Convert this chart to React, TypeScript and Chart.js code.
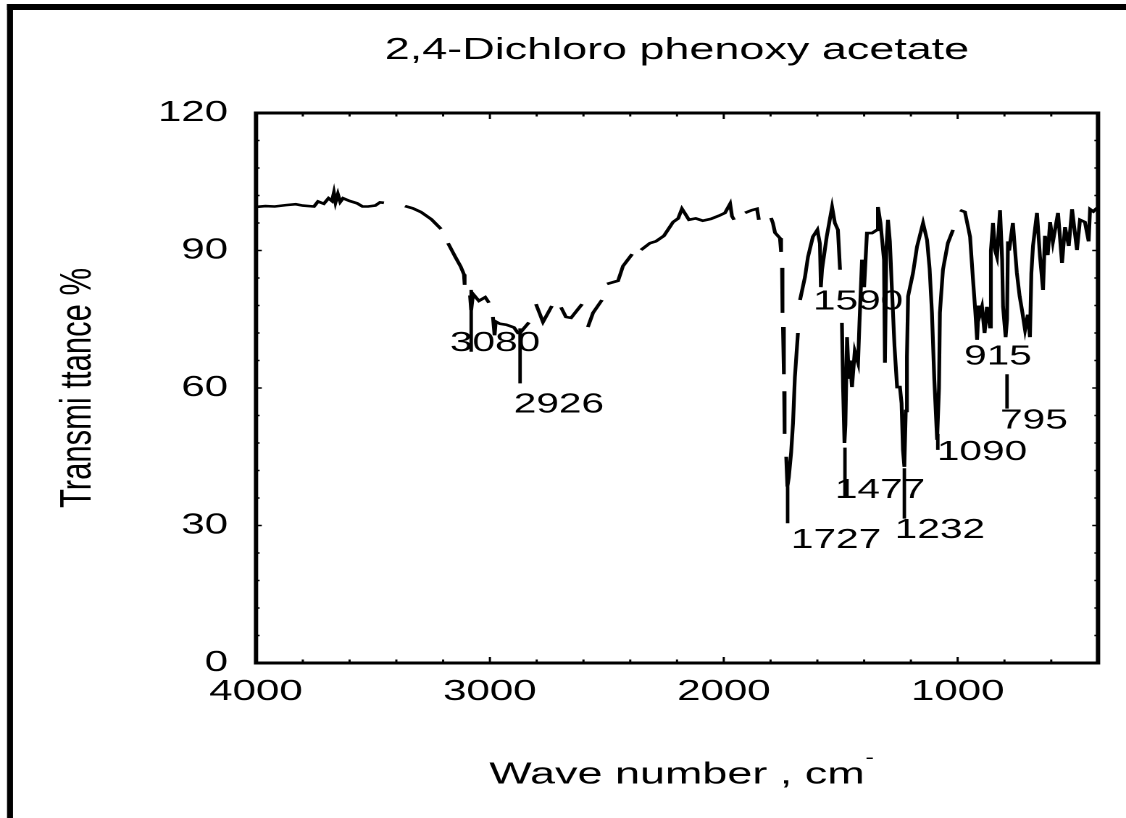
import { useEffect, useRef } from "react";
import { Chart, registerables } from "chart.js";

Chart.register(...registerables);

const CANVAS_W = 777;
const CANVAS_H = 818;
const STRETCH = 1126 / CANVAS_W;
const FONT = '"Liberation Sans", Arial, Helvetica, sans-serif';

// IR spectrum: wavenumber (cm-1) and transmittance (%); null marks a break in the trace
const wavenumbers = [
  4000, 3960, 3920, 3872, 3830, 3800, 3752, 3735, 3710, 3690, 3675, 3667, 3660, 3650, 3640, 3628, 3600, 3568, 3545, 3521, 3490, 3470, 3453,
  3420, 3363, 3330, 3295, 3250, 3209, 3195, 3179, 3150, 3125, 3111, 3108, 3095, 3085, 3080, 3072, 3047, 3020, 3004, 2995,
  2987, 2980, 2975, 2957, 2930, 2897, 2880, 2871, 2855, 2833, 2820, 2803, 2773, 2735, 2715, 2696, 2675, 2653, 2606, 2595,
  2581, 2559, 2521, 2510, 2499, 2452, 2431, 2392, 2370, 2354, 2316, 2290, 2256, 2217, 2195, 2179, 2165, 2149, 2120, 2090,
  2055, 2020, 1995, 1973, 1965, 1956, 1935, 1909, 1880, 1858, 1850, 1825, 1798, 1790, 1781, 1760, 1755, 1753, 1751, 1749,
  1748, 1747, 1743, 1742.5, 1742, 1740, 1739, 1733, 1728, 1722, 1712, 1704, 1696, 1683, 1678, 1674, 1653, 1640, 1619, 1600,
  1589, 1585, 1580, 1560, 1537, 1525, 1512, 1503, 1499, 1495, 1490, 1484, 1480, 1473, 1465, 1460, 1452, 1440, 1426, 1420,
  1409, 1400, 1388, 1366, 1345, 1341, 1330, 1315, 1311, 1305, 1298, 1290, 1281, 1270, 1259, 1247, 1240, 1234, 1228, 1222,
  1217, 1212, 1191, 1174, 1148, 1131, 1120, 1110, 1100, 1088, 1080, 1076, 1063, 1042, 1020, 1005, 990, 969, 947, 935,
  925, 917, 910, 905, 896, 885, 875, 862, 858, 849, 840, 832, 819, 810, 806, 795, 789, 785, 780, 764, 747, 735, 725,
  712, 700, 691, 685, 678, 661, 648, 635, 627, 615, 605, 593, 571, 554, 541, 525, 511, 490, 477, 456, 440, 434,
  420, 404,
];
const transmittance = [
  99.5, 99.7, 99.6, 99.9, 100.1, 99.8, 99.6, 100.7, 100.2, 101.4, 100.8, 102.6, 100.5, 102.3, 100.6, 101.4, 100.8, 100.3, 99.6, 99.6, 99.8, 100.5, 100.4,
  null, 99.7, 99.2, 98.4, 96.8, 94.7, null, 91.6, 88.8, 86.5, 84.8, 82.5, null, 80.2, 77.0, 80.5, 79.0, 79.8, 78.6, null,
  75.5, 71.5, 74.5, 74.0, 73.8, 73.2, 72.0, 72.0, 73.0, 74.3, null, 78.3, 74.4, 77.9, null, 77.6, 75.5, 75.3, 78.3, null,
  73.3, 76.4, 79.2, null, 82.7, 83.4, 86.6, 89.2, null, 90.1, 91.6, 92.0, 93.2, 96.2, 97.0, 99.1, 98.0, 96.7, 97.0, 96.5,
  96.9, 97.6, 98.2, 100.2, 97.5, 96.7, null, 98.2, 98.8, 99.1, 96.7, null, 97.1, 96.0, 93.9, 92.7, 89.7, null, 86.2, 76.4,
  null, 73.3, 63.0, null, 59.3, 50.0, null, 45.0, 38.5, 40.5, 46.0, 52.4, 62.4, 72.0, null, 79.2, 84.2, 88.6, 93.0, 94.5,
  91.5, 82.0, 85.8, 93.0, 99.5, 96.0, 94.5, 85.8, null, 74.2, 60.0, 48.0, 52.0, 71.1, 62.0, 66.0, 60.2, 68.0, 65.5, 74.0,
  88.0, 82.0, 93.8, 93.8, 94.5, 99.5, 96.0, 88.0, 65.5, 90.0, 96.7, 92.0, 81.4, 69.0, 60.2, 60.2, 56.7, 46.5, 42.8, 55.0,
  66.8, 80.0, 85.1, 90.8, 96.0, 92.3, 86.0, 76.4, 62.0, 48.7, 60.0, 76.4, 85.8, 91.6, 94.5, null, 98.8, 98.4, 93.0, 84.0,
  77.0, 70.5, 78.0, 76.0, 77.7, 72.0, 77.7, 73.3, 90.0, 96.0, 90.0, 88.6, 98.8, 88.0, 77.7, 71.1, 75.0, 92.0, 90.0, 96.0, 85.1, 80.0, 77.0,
  72.7, 76.0, 71.1, 85.0, 91.0, 98.2, 88.6, 81.4, 93.2, 89.0, 96.2, 91.8, 98.2, 87.3, 95.1, 91.0, 99.0, 90.1, 96.7, 96.2, 92.0, 99.0,
  98.5, 99.3,
];

// axis ticks
const xLabelTicks = [4000, 3000, 2000, 1000];
const xMinorTicks = [4000, 3800, 3600, 3400, 3200, 3000, 2800, 2600, 2400, 2200, 2000, 1800, 1600, 1400, 1200, 1000, 800, 600, 400];
const yMinorTicks = [6, 12, 18, 24, 30, 36, 42, 48, 54, 60, 66, 72, 78, 84, 90, 96, 102, 108, 114];

// peak annotations (text position and marker line, in data units)
const peakNames = ["3080", "2926", "1727", "1590", "1477", "1232", "1090", "915", "795"];
const peakTextWn = [2978, 2705, 1520, 1426, 1332, 1076, 896, 828, 674];
const peakTextT = [69.8, 56.3, 26.8, 78.8, 37.7, 29.0, 46.0, 66.8, 52.8];
const peakLineWn = [3080, 2871, 1727, null, 1482, 1228, 1085, null, 789];
const peakLineTop = [81.4, 73.0, 38.5, null, 47.0, 42.5, 50.0, null, 63.0];
const peakLineBottom = [67.9, 61.0, 30.5, null, 36.0, 31.5, 46.5, null, 55.5];

const decorPlugin = {
  id: "decor",
  afterDraw(chart: any) {
    const ctx = chart.ctx as CanvasRenderingContext2D;
    const { left, right, top, bottom } = chart.chartArea;
    const xs = chart.scales.x;
    const ys = chart.scales.y;
    ctx.save();
    // page frame (top and left visible)
    ctx.fillStyle = "#000";
    ctx.fillRect(7 / STRETCH, 4, CANVAS_W, 6);
    ctx.fillRect(7 / STRETCH, 4, 6 / STRETCH, CANVAS_H);

    // plot frame
    ctx.strokeStyle = "#000";
    ctx.lineWidth = 3;
    ctx.strokeRect(left, top, right - left, bottom - top);

    // inward ticks
    ctx.lineWidth = 1.5;
    ctx.beginPath();
    xMinorTicks.forEach((v) => {
      const px = xs.getPixelForValue(v);
      const len = xLabelTicks.includes(v) ? 6 : 3.5;
      ctx.moveTo(px, bottom);
      ctx.lineTo(px, bottom - len);
      ctx.moveTo(px, top);
      ctx.lineTo(px, top + len);
    });
    yMinorTicks.forEach((v) => {
      const py = ys.getPixelForValue(v);
      const len = v % 30 === 0 ? 4 : 2.5;
      ctx.moveTo(left, py);
      ctx.lineTo(left + len, py);
      ctx.moveTo(right, py);
      ctx.lineTo(right - len, py);
    });
    ctx.stroke();

    // peak markers
    ctx.lineWidth = 2.4;
    ctx.beginPath();
    peakLineWn.forEach((wn, i) => {
      if (wn === null) return;
      const px = xs.getPixelForValue(wn);
      ctx.moveTo(px, ys.getPixelForValue(peakLineTop[i] as number));
      ctx.lineTo(px, ys.getPixelForValue(peakLineBottom[i] as number));
    });
    ctx.stroke();

    // peak labels
    ctx.fillStyle = "#000";
    ctx.font = `28px ${FONT}`;
    ctx.textAlign = "center";
    ctx.textBaseline = "middle";
    peakNames.forEach((name, i) => {
      ctx.fillText(name, xs.getPixelForValue(peakTextWn[i]), ys.getPixelForValue(peakTextT[i]));
    });

    // superscript minus after the x-axis title
    ctx.font = `31px ${FONT}`;
    const w = ctx.measureText("Wave number , cm").width;
    const cx = (left + right) / 2;
    ctx.font = `18px ${FONT}`;
    ctx.textAlign = "left";
    ctx.fillText("-", cx + w / 2 + 0.5, 758);
    ctx.restore();
  },
};

export default function App() {
  const ref = useRef<HTMLCanvasElement>(null);
  useEffect(() => {
    const canvas = ref.current;
    if (!canvas) return;
    const points = wavenumbers.map((x, i) => ({ x, y: transmittance[i] }));
    const chart = new Chart(canvas, {
      type: "line",
      data: {
        datasets: [
          {
            data: points as any,
            borderColor: "#000",
            borderWidth: 2.6,
            pointRadius: 0,
            tension: 0,
            fill: false,
            spanGaps: false,
          },
        ],
      },
      options: {
        animation: false,
        responsive: false,
        devicePixelRatio: 2,
        layout: { padding: { left: 0, right: CANVAS_W - 1098 / STRETCH, top: 0, bottom: 0 } },
        plugins: {
          legend: { display: false },
          tooltip: { enabled: false },
          title: {
            display: true,
            text: "2,4-Dichloro phenoxy acetate",
            fullSize: false,
            color: "#000",
            font: { family: FONT, size: 31, weight: "normal", lineHeight: 1.2 },
            padding: { top: 32, bottom: 43.8 },
          },
        },
        scales: {
          x: {
            type: "linear",
            reverse: true,
            min: 400,
            max: 4000,
            afterBuildTicks: (s: any) => {
              s.ticks = xLabelTicks.map((v) => ({ value: v }));
            },
            afterFit: (s: any) => {
              s.height = 155;
            },
            grid: { display: false, drawTicks: false },
            border: { display: false },
            ticks: {
              autoSkip: false,
              maxRotation: 0,
              padding: 11.6,
              color: "#000",
              font: { family: FONT, size: 29, lineHeight: 1.2 },
              callback: (v: any) => String(v),
            },
            title: {
              display: true,
              text: "Wave number , cm",
              color: "#000",
              font: { family: FONT, size: 31, lineHeight: 1.2 },
              padding: { top: 0, bottom: 24.4 },
            },
          },
          y: {
            min: 0,
            max: 120,
            afterFit: (s: any) => {
              s.width = 256 / STRETCH;
            },
            grid: { display: false, drawTicks: false },
            border: { display: false },
            ticks: {
              stepSize: 30,
              padding: 28 / STRETCH,
              color: "#000",
              font: { family: FONT, size: 29, lineHeight: 1.2 },
              callback: (v: any) => String(v),
            },
            title: {
              display: true,
              text: "Transmi ttance %",
              color: "#000",
              font: { family: FONT, size: 31, lineHeight: 1.2 },
              padding: { top: 78 / STRETCH - 18.6, bottom: 0 },
            },
          },
        },
      },
      plugins: [decorPlugin],
    });
    return () => chart.destroy();
  }, []);

  return (
    <div style={{ position: "fixed", left: 0, top: 0, width: 1126, height: 818, background: "#fff", overflow: "hidden" }}>
      <div style={{ transform: `scaleX(${STRETCH})`, transformOrigin: "0 0", width: CANVAS_W, height: CANVAS_H }}>
        <canvas ref={ref} width={CANVAS_W} height={CANVAS_H} style={{ display: "block" }} />
      </div>
    </div>
  );
}
